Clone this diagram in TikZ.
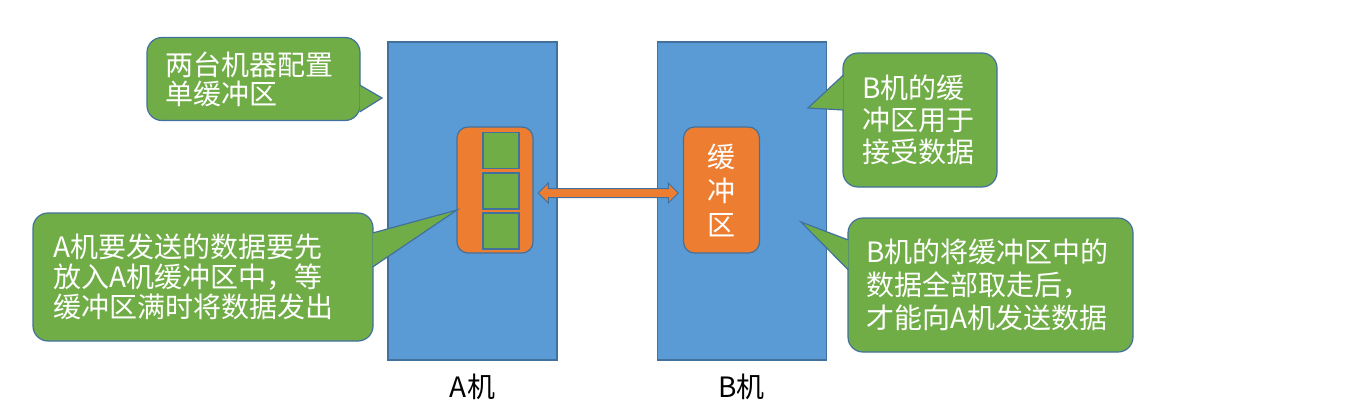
\documentclass[tikz,border=0pt]{standalone}
\usepackage{fontspec}
\setmainfont{Noto Sans CJK SC}
\usetikzlibrary{shapes.arrows, positioning, calc}
\definecolor{jiqi}{HTML}{5B9BD5}
\definecolor{bian}{HTML}{41719C}
\definecolor{huanchong}{HTML}{ED7D31}
\definecolor{lvse}{HTML}{70AD47}

\begin{document}
\begin{tikzpicture}[x=1pt, y=1pt,
  machine/.style={draw=bian, fill=jiqi, line width=1.2pt, minimum width=169pt,
    minimum height=318pt, inner sep=0pt},
  buffer/.style={draw=bian, fill=huanchong, line width=1.2pt, rounded corners=11pt,
    minimum width=76pt, minimum height=126pt, inner sep=0pt},
  cell/.style={draw=bian, fill=lvse, line width=1.2pt, minimum size=36pt, inner sep=0pt},
  callout/.style={draw=bian, fill=lvse, line width=1.2pt, rounded corners=15pt,
    text=white, align=left, inner ysep=0pt},
  pointer/.style={draw=bian, fill=lvse, line width=1.2pt, line join=miter},
  big/.style={font=\fontsize{28}{#1}\selectfont}]
  \useasboundingbox (0,0) rectangle (1360,-418);

  % two machines
  \node[machine] (A) at (472.5,-201) {};
  \node[machine, right=99pt of A] (B) {};
  \node[big=30, below=10pt of A] (la) {A机};
  \node[big=30, below=10pt of B] (lb) {B机};

  % buffers
  \node[buffer] (Abuf) at (495,-190) {};
  \foreach \i/\y in {1/150.5, 2/191, 3/231}
    \node[cell] (cell\i) at (501,-\y) {};
  \node[buffer, text=white, align=center, big=34] (Bbuf) at (721.5,-190)
    {缓\\冲\\区};

  \node[double arrow, draw=bian, fill=huanchong, line width=1pt, inner sep=4pt,
        minimum height=140pt, minimum width=19pt, double arrow head extend=5.5pt]
    (link) at ($(Abuf.east)!0.5!(Bbuf.west)+(0,-3)$) {};

  % callouts
  \node[callout, big=29, inner xsep=18pt, text width=177pt, minimum height=83pt]
    (n1) at (253.5,-79) {两台机器配置\\单缓冲区};
  \node[callout, big=30, inner xsep=20pt, text width=300pt, minimum height=128pt]
    (n2) at (203,-277) {A机要发送的数据要先\\放入A机缓冲区中，等\\缓冲区满时将数据发出};
  \node[callout, big=32, inner xsep=19pt, text width=116pt, minimum height=134pt]
    (n3) at (920,-120) {B机的缓\\冲区用于\\接受数据};
  \node[callout, big=33, inner xsep=18pt, text width=249pt, minimum height=134pt]
    (n4) at (990.5,-285) {B机的将缓冲区中的\\数据全部取走后，\\才能向A机发送数据};

  \coordinate (t1) at (382,-98);
  \coordinate (t2) at (457,-210);
  \coordinate (t3) at (808,-108);
  \coordinate (t4) at (801,-222);
  \filldraw[pointer] ($(n1.east)+(-1,-6)$) -- (t1) -- ($(n1.east)+(-1,-33)$);
  \filldraw[pointer] ($(n2.east)+(-1,44)$) -- (t2) -- ($(n2.east)+(-1,10)$);
  \filldraw[pointer] ($(n3.west)+(1,45)$) -- (t3) -- ($(n3.west)+(1,10)$);
  \filldraw[pointer] ($(n4.west)+(1,45)$) -- (t4) -- ($(n4.west)+(1,15)$);
\end{tikzpicture}
\end{document}
